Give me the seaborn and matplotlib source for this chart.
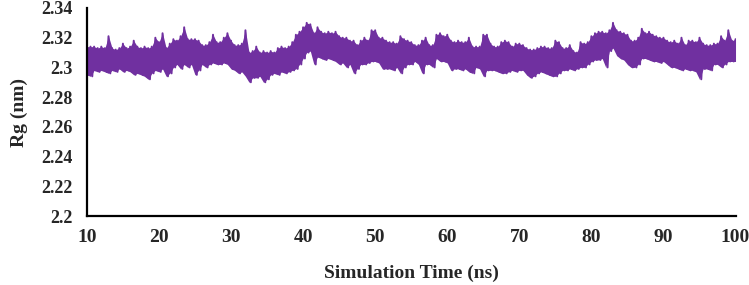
"""Radius of gyration over the simulation, drawn as a dense noisy trace"""

import matplotlib
matplotlib.use("Agg")
import matplotlib.pyplot as plt
import numpy as np
import pandas as pd
import seaborn as sns

# time axis (ns) for the upper/lower swings of the trace, 0.5 ns apart
t_start, t_step = 10.0, 0.5

# upper swings of Rg (nm)
rg_hi = [
    2.314, 2.314, 2.314, 2.313, 2.314, 2.313, 2.321, 2.313, 2.312, 2.313,
    2.316, 2.313, 2.314, 2.318, 2.314, 2.313, 2.314, 2.313, 2.314, 2.320,
    2.317, 2.323, 2.313, 2.316, 2.319, 2.318, 2.321, 2.327, 2.319, 2.319,
    2.319, 2.318, 2.315, 2.315, 2.317, 2.322, 2.317, 2.317, 2.320, 2.323,
    2.318, 2.315, 2.315, 2.316, 2.325, 2.310, 2.311, 2.314, 2.310, 2.311,
    2.310, 2.311, 2.310, 2.313, 2.314, 2.313, 2.314, 2.317, 2.322, 2.324,
    2.327, 2.330, 2.329, 2.323, 2.327, 2.324, 2.323, 2.324, 2.323, 2.324,
    2.321, 2.320, 2.320, 2.318, 2.318, 2.315, 2.318, 2.320, 2.318, 2.325,
    2.325, 2.320, 2.320, 2.318, 2.317, 2.317, 2.316, 2.321, 2.319, 2.318,
    2.317, 2.315, 2.315, 2.318, 2.320, 2.315, 2.315, 2.322, 2.323, 2.321,
    2.322, 2.318, 2.317, 2.318, 2.317, 2.317, 2.320, 2.314, 2.314, 2.314,
    2.322, 2.322, 2.316, 2.314, 2.314, 2.317, 2.318, 2.317, 2.314, 2.316,
    2.316, 2.315, 2.313, 2.312, 2.312, 2.313, 2.314, 2.314, 2.313, 2.313,
    2.318, 2.317, 2.313, 2.313, 2.315, 2.311, 2.310, 2.317, 2.316, 2.317,
    2.321, 2.323, 2.324, 2.324, 2.323, 2.325, 2.330, 2.325, 2.324, 2.323,
    2.322, 2.318, 2.318, 2.320, 2.326, 2.323, 2.324, 2.322, 2.321, 2.320,
    2.320, 2.318, 2.317, 2.318, 2.316, 2.320, 2.315, 2.318, 2.318, 2.317,
    2.320, 2.316, 2.315, 2.315, 2.316, 2.316, 2.321, 2.318, 2.325, 2.318,
    2.319,
]

# lower swings of Rg (nm)
rg_lo = [
    2.295, 2.294, 2.298, 2.297, 2.298, 2.297, 2.296, 2.298, 2.297, 2.299,
    2.297, 2.298, 2.297, 2.295, 2.296, 2.295, 2.294, 2.292, 2.296, 2.298,
    2.297, 2.299, 2.294, 2.296, 2.300, 2.302, 2.299, 2.302, 2.300, 2.302,
    2.295, 2.298, 2.302, 2.300, 2.302, 2.303, 2.302, 2.302, 2.303, 2.302,
    2.299, 2.298, 2.296, 2.297, 2.294, 2.290, 2.293, 2.293, 2.294, 2.290,
    2.292, 2.295, 2.296, 2.295, 2.297, 2.296, 2.297, 2.298, 2.299, 2.302,
    2.306, 2.310, 2.311, 2.302, 2.307, 2.306, 2.305, 2.306, 2.305, 2.304,
    2.302, 2.303, 2.300, 2.302, 2.296, 2.299, 2.302, 2.302, 2.303, 2.304,
    2.304, 2.303, 2.299, 2.299, 2.299, 2.298, 2.300, 2.296, 2.300, 2.302,
    2.302, 2.304, 2.302, 2.296, 2.302, 2.302, 2.300, 2.306, 2.304, 2.304,
    2.303, 2.298, 2.299, 2.299, 2.298, 2.299, 2.297, 2.296, 2.300, 2.299,
    2.294, 2.298, 2.298, 2.298, 2.297, 2.296, 2.296, 2.297, 2.298, 2.297,
    2.298, 2.298, 2.295, 2.293, 2.294, 2.296, 2.297, 2.296, 2.295, 2.294,
    2.294, 2.296, 2.298, 2.298, 2.299, 2.298, 2.299, 2.300, 2.300, 2.302,
    2.304, 2.305, 2.305, 2.306, 2.300, 2.311, 2.313, 2.308, 2.306, 2.305,
    2.302, 2.300, 2.300, 2.302, 2.306, 2.306, 2.305, 2.304, 2.304, 2.303,
    2.304, 2.302, 2.300, 2.300, 2.299, 2.298, 2.299, 2.298, 2.298, 2.297,
    2.292, 2.299, 2.299, 2.298, 2.302, 2.302, 2.300, 2.302, 2.304, 2.304,
    2.304,
]

x_ticks = [10, 20, 30, 40, 50, 60, 70, 80, 90, 100]
y_ticks = [2.2, 2.22, 2.24, 2.26, 2.28, 2.3, 2.32, 2.34]
y_tick_labels = ["2.2", "2.22", "2.24", "2.26", "2.28", "2.3", "2.32", "2.34"]

purple = "#7030A0"

# interleave the swings so the line zigzags between them
n = len(rg_hi)
t_hi = t_start + t_step * np.arange(n)
t_lo = t_hi + t_step / 2
df = pd.DataFrame({
    "time": np.concatenate([t_hi, t_lo]),
    "rg": np.concatenate([rg_hi, rg_lo]),
}).sort_values("time")

sns.set_style("white")
plt.rcParams["font.family"] = ["Liberation Serif", "DejaVu Serif"]
plt.rcParams["font.weight"] = "bold"

fig, ax = plt.subplots(figsize=(7.49, 2.85), dpi=100)
fig.subplots_adjust(left=0.116, right=0.982, bottom=0.242, top=0.972)

# solid body of the trace between the swings, then the zigzag line on top
ax.fill_between(t_hi, rg_lo, rg_hi, color=purple, linewidth=0)
sns.lineplot(data=df, x="time", y="rg", estimator=None, sort=False,
             color=purple, linewidth=1.4, ax=ax)

ax.set_xlim(10, 100)
ax.set_ylim(2.2, 2.34)
ax.set_xticks(x_ticks)
ax.set_xticklabels([str(v) for v in x_ticks], fontsize=14, fontweight="bold")
ax.set_yticks(y_ticks)
ax.set_yticklabels(y_tick_labels, fontsize=13, fontweight="bold")
ax.tick_params(axis="both", length=0)
ax.tick_params(axis="x", pad=9)
ax.tick_params(axis="y", pad=10)

ax.set_xlabel("Simulation Time (ns)", fontsize=14, fontweight="bold", labelpad=14)
ax.set_ylabel("Rg (nm)", fontsize=14, fontweight="bold", labelpad=10)

sns.despine(ax=ax)
for side in ("left", "bottom"):
    ax.spines[side].set_color("black")
    ax.spines[side].set_linewidth(1.6)

plt.savefig("out.png", dpi=100)
